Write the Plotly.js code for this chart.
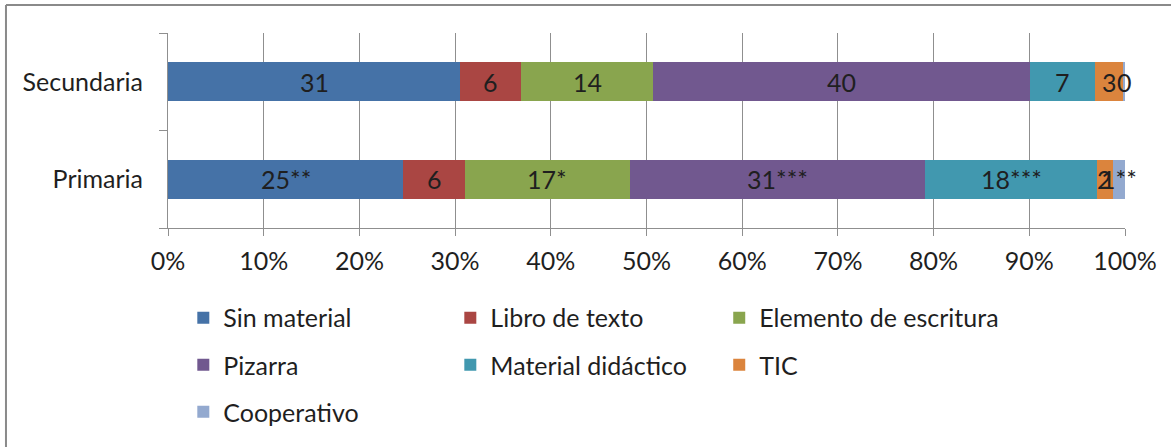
<!DOCTYPE html>
<html>
<head>
<meta charset="utf-8">
<script src="https://cdn.plot.ly/plotly-3.0.1.min.js"></script>
<style>
html,body{margin:0;padding:0;background:#fff;}
#chart{width:1171px;height:447px;}
</style>
</head>
<body>
<div id="chart"></div>
<script>
// Categories (bottom to top)
const categories = ['Primaria', 'Secundaria'];
// Series names
const seriesNames = ['Sin material', 'Libro de texto', 'Elemento de escritura', 'Pizarra', 'Material didáctico', 'TIC', 'Cooperativo'];
// Values (% of each level)
const primariaValues   = [24.6, 6.4, 17.3, 30.8, 18.0, 1.6, 1.3];
const secundariaValues = [30.6, 6.4, 13.8, 39.5, 6.8, 2.9, 0.2];
// Data labels as printed
const primariaLabels   = ['25**', '6', '17*', '31***', '18***', '2', '1**'];
const secundariaLabels = ['31', '6', '14', '40', '7', '3', '0'];
// Tick labels
const xTickVals = [0, 10, 20, 30, 40, 50, 60, 70, 80, 90, 100];
const xTickText = ['0%', '10%', '20%', '30%', '40%', '50%', '60%', '70%', '80%', '90%', '100%'];

const colors = ['#4572A7', '#AA4643', '#89A54E', '#71588F', '#4198AF', '#DB843D', '#93A9CF'];
const legendIds = ['legend', 'legend2', 'legend3', 'legend4', 'legend5', 'legend6', 'legend7'];
const legendCol = [0, 1, 2, 0, 1, 2, 0];
const legendRow = [0, 0, 0, 1, 1, 1, 2];
const colX = [0.016, 0.295, 0.576];
const rowY = [-0.4615, -0.7026, -0.9436];

const FONT = 'Lato, "Open Sans", sans-serif';
const TXT = '#1f1f1f';

const traces = seriesNames.map((name, i) => ({
  type: 'bar',
  orientation: 'h',
  name: name,
  y: categories,
  x: [primariaValues[i], secundariaValues[i]],
  textposition: 'none',
  marker: {color: colors[i], line: {width: 0}},
  legend: legendIds[i],
  hoverinfo: 'name+x'
}));

// data labels, placed at the centre of each (normalised) segment
function labelAnnotations(values, labels, cat) {
  const total = values.reduce((a, b) => a + b, 0);
  let cum = 0;
  return values.map((v, i) => {
    const centre = (cum + v / 2) / total * 100;
    cum += v;
    return {
      xref: 'x', yref: 'y', x: centre, y: cat,
      text: labels[i], showarrow: false,
      xanchor: 'center', yanchor: 'middle',
      font: {family: FONT, size: 25, color: TXT}
    };
  });
}
const annotations = labelAnnotations(primariaValues, primariaLabels, categories[0])
  .concat(labelAnnotations(secundariaValues, secundariaLabels, categories[1]));

const layout = {
  width: 1171,
  height: 447,
  margin: {l: 168, r: 46, t: 33, b: 219},
  paper_bgcolor: '#ffffff',
  plot_bgcolor: '#ffffff',
  barmode: 'stack',
  barnorm: 'percent',
  bargap: 0.6,
  showlegend: true,
  font: {family: FONT, size: 25, color: TXT},
  xaxis: {
    range: [0, 100],
    tickvals: xTickVals,
    ticktext: xTickText,
    showgrid: true,
    gridcolor: '#8f8f8f',
    gridwidth: 1,
    zeroline: false,
    showline: true,
    linecolor: '#8f8f8f',
    linewidth: 1,
    ticks: 'outside',
    ticklen: 7,
    tickcolor: '#8f8f8f',
    ticklabelstandoff: 4,
    tickfont: {family: FONT, size: 25, color: TXT},
    fixedrange: true
  },
  yaxis: {
    showgrid: false,
    zeroline: false,
    showline: true,
    linecolor: '#8f8f8f',
    linewidth: 1,
    ticks: 'outside',
    tickson: 'boundaries',
    ticklen: 8,
    tickcolor: '#8f8f8f',
    ticklabelstandoff: 19,
    tickfont: {family: FONT, size: 25, color: TXT},
    fixedrange: true
  },
  annotations: annotations,
  shapes: [
    {type: 'line', xref: 'paper', yref: 'paper', x0: -0.1693, x1: 1.06, y0: 1.1436, y1: 1.1436, line: {color: '#8a8a8a', width: 2}},
    {type: 'line', xref: 'paper', yref: 'paper', x0: -0.1693, x1: -0.1693, y0: 1.1436, y1: -1.2, line: {color: '#8a8a8a', width: 2}}
  ]
};

legendIds.forEach((id, i) => {
  layout[id] = {
    orientation: 'h',
    xanchor: 'left',
    yanchor: 'middle',
    x: colX[legendCol[i]],
    y: rowY[legendRow[i]],
    font: {family: FONT, size: 25, color: TXT},
    bgcolor: 'rgba(0,0,0,0)',
    itemclick: false
  };
});

Plotly.newPlot('chart', traces, layout, {displayModeBar: false, staticPlot: true});
</script>
</body>
</html>
